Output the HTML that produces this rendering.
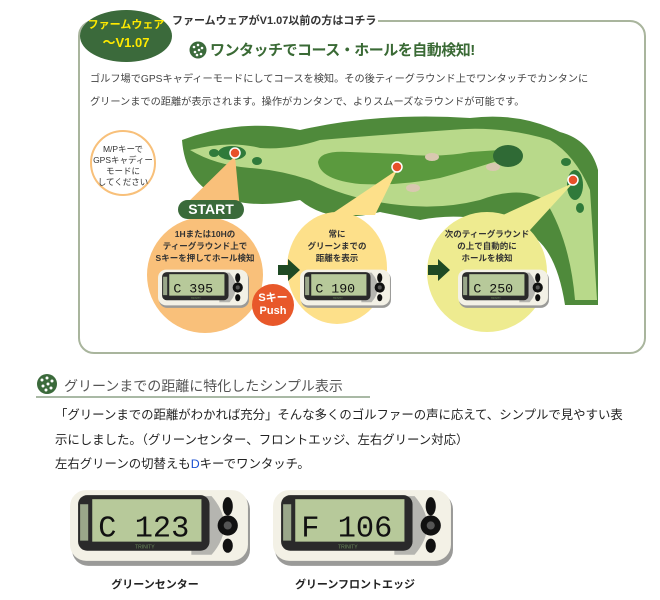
<!DOCTYPE html>
<html><head><meta charset="utf-8"><style>
body{margin:0;width:660px;height:600px;background:#fff;position:relative;overflow:hidden;font-family:"Liberation Sans","Noto Sans CJK JP",sans-serif}
.a{position:absolute;white-space:nowrap}
.c{position:absolute;border-radius:50%}
.ct{position:absolute;text-align:center;font-weight:bold;font-size:9px;line-height:12px;color:#333}
</style></head><body>
<!-- frame -->
<div class="a" style="left:78px;top:20px;width:564px;height:330px;border:2px solid #a9b59d;border-radius:16px"></div>
<div class="a" style="left:160px;top:10px;width:218px;height:20px;background:#fff"></div>
<div class="c" style="left:80px;top:10px;width:92px;height:52px;background:#3b6a3b"></div>
<div class="a" style="left:80px;top:16px;width:92px;text-align:center;color:#ffea00;font-weight:bold;font-size:11px;line-height:18px">ファームウェア<br><span style="font-size:13px">～V1.07</span></div>
<div class="a" style="left:172px;top:12px;font-size:11px;font-weight:bold;color:#333">ファームウェアがV1.07以前の方はコチラ</div>
<svg class="a" style="left:189px;top:41px" width="18" height="18"><circle cx="9" cy="9" r="8.5" fill="#3b6a3b"/><g fill="#fff"><circle cx="5" cy="6" r="1.3"/><circle cx="9" cy="4" r="1.3"/><circle cx="13" cy="7" r="1.3"/><circle cx="6" cy="11" r="1.3"/><circle cx="10" cy="9" r="1.3"/><circle cx="12" cy="13" r="1.3"/><circle cx="8" cy="14" r="1.3"/></g></svg>
<div class="a" style="left:210px;top:39px;font-size:15px;letter-spacing:-0.5px;font-weight:bold;color:#3a6a35">ワンタッチでコース・ホールを自動検知!</div>
<div class="a" style="left:90px;top:68px;font-size:10.2px;color:#444;line-height:23px">ゴルフ場でGPSキャディーモードにしてコースを検知。その後ティーグラウンド上でワンタッチでカンタンに<br>グリーンまでの距離が表示されます。操作がカンタンで、よりスムーズなラウンドが可能です。</div>
<!-- course -->
<svg class="a" style="left:0;top:0" width="660" height="360">
<path d="M182,140 Q240,118 300,130 Q380,112 470,118 Q520,112 560,132 Q590,140 598,170 L598,305 L565,305 Q555,240 520,230 Q470,210 420,220 L380,212 Q330,225 300,200 Q250,210 215,195 Q185,180 182,140Z" fill="#4f8a3b"/>
<path d="M190,150 Q230,140 260,148 Q290,150 320,140 Q380,135 450,130 Q500,125 550,140 Q575,155 590,190 L597,300 L575,300 Q570,240 545,200 Q520,185 480,200 Q440,210 400,205 Q350,200 310,180 Q280,170 250,168 Q215,165 190,150Z" fill="#b8d98a"/>
<path d="M318,162 Q320,150 350,152 L400,154 Q440,158 470,152 L500,150 L500,160 Q470,170 440,178 Q400,186 360,184 Q320,180 318,162Z" fill="#5b9a3e"/>
<ellipse cx="508" cy="156" rx="15" ry="11" fill="#2f6a35"/>
<ellipse cx="232" cy="153" rx="14" ry="7" fill="#2f7a3a"/><ellipse cx="214" cy="153" rx="5" ry="4" fill="#2f7a3a"/><ellipse cx="257" cy="161" rx="5" ry="4" fill="#2f7a3a"/>
<ellipse cx="575" cy="185" rx="8" ry="15" fill="#2f7a3a"/><ellipse cx="566" cy="162" rx="5" ry="4" fill="#2f7a3a"/><ellipse cx="580" cy="208" rx="4" ry="5" fill="#2f7a3a"/>
<ellipse cx="432" cy="157" rx="7" ry="4" fill="#d9c8b0"/><ellipse cx="493" cy="167" rx="7" ry="4" fill="#d9c8b0"/><ellipse cx="413" cy="188" rx="7" ry="4" fill="#d9c8b0"/>
<polygon points="235,156 180,210 240,210" fill="#f9c07a"/>
<polygon points="397,170 330,215 375,215" fill="#fde08a"/>
<polygon points="573,183 470,230 530,230" fill="#eeeb90"/>
<g fill="#e8502a" stroke="#fff" stroke-width="1.5"><circle cx="235" cy="153" r="5"/><circle cx="397" cy="167" r="5"/><circle cx="573" cy="180" r="5"/></g>
</svg>
<div class="c" style="left:90px;top:130px;width:62px;height:62px;border:2px solid #f8c07a;background:#fff"></div>
<div class="ct" style="left:90px;top:144px;width:66px;font-weight:normal;font-size:8.5px;line-height:11px">M/Pキーで<br>GPSキャディー<br>モードに<br>してください</div>
<div class="c" style="left:147px;top:217px;width:116px;height:116px;background:#f9c07a"></div>
<div class="c" style="left:287px;top:212px;width:100px;height:112px;background:#fde08a;border-radius:50%"></div>
<div class="c" style="left:427px;top:212px;width:120px;height:120px;background:#eeeb90"></div>
<div class="a" style="left:178px;top:200px;width:66px;height:19px;border-radius:10px;background:#3a6a3a;color:#fff;font-weight:bold;font-size:14px;text-align:center;line-height:19px">START</div>
<div class="ct" style="left:150px;top:228px;width:110px;font-size:8.5px">1Hまたは10Hの<br>ティーグラウンド上で<br>Sキーを押してホール検知</div>
<div class="ct" style="left:287px;top:228px;width:100px;font-size:8.5px">常に<br>グリーンまでの<br>距離を表示</div>
<div class="ct" style="left:427px;top:228px;width:120px;font-size:8.5px">次のティーグラウンド<br>の上で自動的に<br>ホールを検知</div>
<svg class="a" style="left:278px;top:259px" width="22" height="22"><polygon points="0,6 10,6 10,0 22,11 10,22 10,16 0,16" fill="#1f4a24"/></svg>
<svg class="a" style="left:428px;top:259px" width="22" height="22"><polygon points="0,6 10,6 10,0 22,11 10,22 10,16 0,16" fill="#1f4a24"/></svg>
<!-- devices -->
<svg width="0" height="0" style="position:absolute"><defs>
<g id="dev">
<rect x="2" y="3" width="176" height="72" rx="16" fill="#9a9a98"/>
<rect x="0" y="0" width="176" height="70" rx="16" fill="#f3f1e6"/>
<path d="M140,6 Q165,35 140,64 L120,64 L120,6Z" fill="#b5b5b0"/>
<rect x="8" y="5" width="130" height="55" rx="9" fill="#2a2a2a"/>
<rect x="22" y="9" width="108" height="42" fill="#b7c99a"/>
<rect x="10" y="14" width="8" height="36" fill="#9aa78a"/>
<text x="74" y="58" font-size="5" fill="#6a8a5a" text-anchor="middle" font-family="Liberation Sans">TRINITY</text>
<ellipse cx="156" cy="16" rx="5" ry="9" fill="#111"/><circle cx="156" cy="35" r="10" fill="#111"/><circle cx="156" cy="35" r="4" fill="#555"/><ellipse cx="156" cy="55" rx="5" ry="7" fill="#111"/>
</g></defs></svg>
<svg class="a" style="left:158px;top:265px" width="92" height="48" viewBox="0 0 180 76"><use href="#dev"/><text x="30" y="45" font-size="26" font-family="Liberation Mono" fill="#111">C 395</text></svg>
<svg class="a" style="left:300px;top:265px" width="92" height="48" viewBox="0 0 180 76"><use href="#dev"/><text x="30" y="45" font-size="26" font-family="Liberation Mono" fill="#111">C 190</text></svg>
<svg class="a" style="left:458px;top:265px" width="92" height="48" viewBox="0 0 180 76"><use href="#dev"/><text x="30" y="45" font-size="26" font-family="Liberation Mono" fill="#111">C 250</text></svg>
<div class="c" style="left:252px;top:284px;width:42px;height:42px;background:#e8582a"></div>
<div class="ct" style="left:252px;top:292px;width:42px;color:#fff;font-size:11px;line-height:13px">Sキー<br>Push</div>
<!-- section 2 -->
<svg class="a" style="left:36px;top:373px" width="22" height="22"><circle cx="11" cy="11" r="10" fill="#3b6a3b"/><g fill="#fff"><circle cx="6" cy="7" r="1.5"/><circle cx="11" cy="5" r="1.5"/><circle cx="16" cy="8" r="1.5"/><circle cx="7" cy="13" r="1.5"/><circle cx="12" cy="11" r="1.5"/><circle cx="15" cy="15" r="1.5"/><circle cx="10" cy="17" r="1.5"/></g></svg>
<div class="a" style="left:64px;top:376px;font-size:14px;color:#555">グリーンまでの距離に特化したシンプル表示</div>
<div class="a" style="left:36px;top:396px;width:334px;height:2px;background:#a9b9a5"></div>
<div class="a" style="left:55px;top:403px;font-size:12.4px;color:#222;line-height:24.5px">「グリーンまでの距離がわかれば充分」そんな多くのゴルファーの声に応えて、シンプルで見やすい表<br>示にしました。（グリーンセンター、フロントエッジ、左右グリーン対応）<br>左右グリーンの切替えも<span style="color:#1a4fd0">D</span>キーでワンタッチ。</div>
<svg class="a" style="left:70px;top:490px" width="182" height="77" viewBox="0 0 180 76"><use href="#dev"/><text x="28" y="46" font-size="30" font-family="Liberation Mono" fill="#111">C 123</text></svg>
<svg class="a" style="left:273px;top:490px" width="182" height="77" viewBox="0 0 180 76"><use href="#dev"/><text x="28" y="46" font-size="30" font-family="Liberation Mono" fill="#111">F 106</text></svg>
<div class="a" style="left:70px;top:576px;width:170px;text-align:center;font-size:11px;font-weight:bold;color:#222">グリーンセンター</div>
<div class="a" style="left:270px;top:576px;width:170px;text-align:center;font-size:11px;font-weight:bold;color:#222">グリーンフロントエッジ</div>
</body></html>
